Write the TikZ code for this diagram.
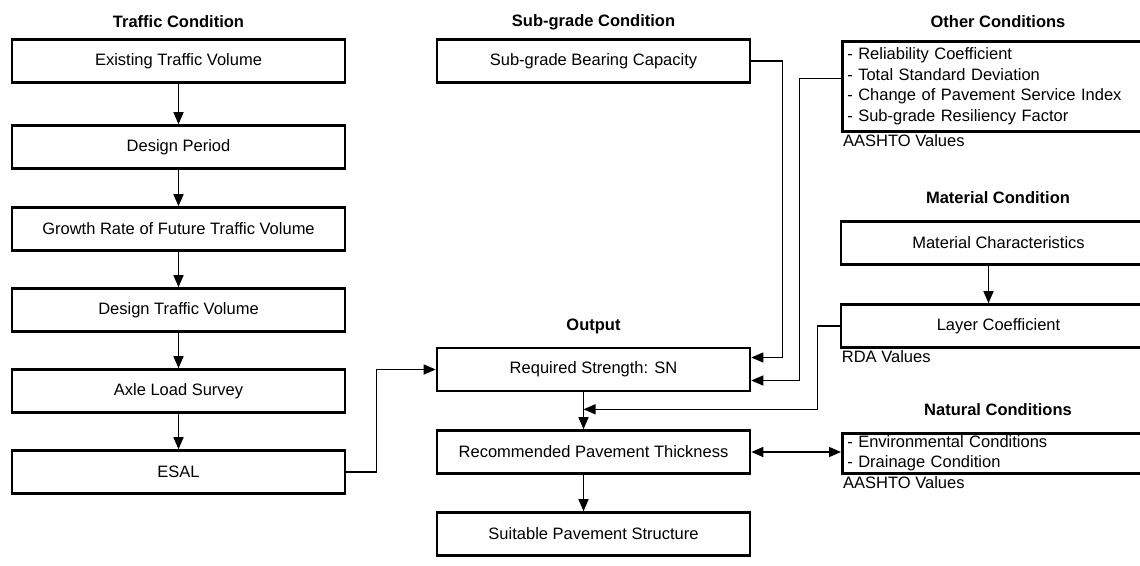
\documentclass[tikz,border=0pt]{standalone}
\usepackage{fontspec}
\setmainfont{Liberation Sans}
\usetikzlibrary{
    arrows.meta,
    calc,
    positioning
}
\definecolor{ink}{RGB}{0,0,0}
\newcommand{\diagfont}{\fontsize{16.5}{20.6}\selectfont}
\tikzset{
    line join=miter,
    stage/.style={
        rectangle,
        draw=ink,
        line width=2.6pt,
        minimum width=333pt,
        minimum height=43pt,
        inner sep=0pt,
        font=\diagfont,
        text=ink
    },
    midstage/.style={stage, minimum width=313pt},
    sidestage/.style={stage, minimum width=315pt},
    listbox/.style={
        sidestage,
        align=left,
        text width=305pt,
        inner xsep=5pt,
        anchor=north west
    },
    heading/.style={
        font=\diagfont\bfseries,
        text=ink
    },
    source/.style={
        font=\diagfont,
        text=ink,
        anchor=north west,
        inner sep=2pt
    },
    flow/.style={
        -{Triangle[length=12pt,width=10pt]},
        draw=ink,
        line width=1.5pt
    },
    feed/.style={
        flow,
        line width=1.2pt
    },
    twoway/.style={
        {Triangle[length=12pt,width=10pt]}-{Triangle[length=12pt,width=10pt]},
        draw=ink,
        line width=1.5pt
    }
}

\begin{document}
\begin{tikzpicture}[x=1pt, y=-1pt]
\clip (0,0) rectangle (1140,565);

% Traffic condition column
\node[heading] (ttl-traffic) at (178.5,22) {Traffic Condition};
\node[stage] (existing) at (178.5,61) {Existing Traffic Volume};
\node[stage] (period) at (178.5,147) {Design Period};
\node[stage] (growth) at (178.5,229) {Growth Rate of Future Traffic Volume};
\node[stage] (design) at (178.5,310) {Design Traffic Volume};
\node[stage] (axle) at (178.5,391) {Axle Load Survey};
\node[stage] (esal) at (178.5,472) {ESAL};

\draw[flow] (existing) -- (period);
\draw[flow] (period) -- (growth);
\draw[flow] (growth) -- (design);
\draw[flow] (design) -- (axle);
\draw[flow] (axle) -- (esal);

% Sub-grade and output column
\node[heading] (ttl-subgrade) at (593.5,22) {Sub-grade Condition};
\node[midstage] (bearing) at (593.5,61) {Sub-grade Bearing Capacity};
\node[heading] (ttl-output) at (593.5,326) {Output};
\node[midstage] (strength) at (593.5,369.5) {Required Strength: SN};
\node[midstage] (thickness) at (593.5,452) {Recommended Pavement Thickness};
\node[midstage] (structure) at (593.5,534) {Suitable Pavement Structure};

\coordinate (merge) at ($(strength.south)+(-10,17)$);
\draw[flow] ($(strength.south)+(-10,0)$) -- ($(thickness.north)+(-10,0)$);
\draw[flow] ($(thickness.south)+(-10,0)$) -- ($(structure.north)+(-10,0)$);

% Other, material and natural conditions
\node[heading] (ttl-other) at (998,22) {Other Conditions};
\node[listbox, minimum height=90pt] (others) at (841,40) {- Reliability Coefficient\\- Total Standard Deviation\\- Change of Pavement Service Index\\- Sub-grade Resiliency Factor};
\node[source] (src-other) at (others.south west) {AASHTO Values};

\node[heading] (ttl-material) at (998,198) {Material Condition};
\node[sidestage] (material) at (998.5,243) {Material Characteristics};
\node[sidestage] (layer) at (998.5,326) {Layer Coefficient};
\node[source] (src-layer) at (layer.south west) {RDA Values};
\draw[flow] ($(material.south)+(-10,0)$) -- ($(layer.north)+(-10,0)$);

\node[heading] (ttl-natural) at (998,410) {Natural Conditions};
\node[listbox, minimum height=40pt] (natural) at (841,432) {- Environmental Conditions\\- Drainage Condition};
\node[source] (src-natural) at (natural.south west) {AASHTO Values};

% Feeds into the required strength
\draw[flow] (esal.east) -- ++(30,0) |- (strength.west);
\draw[feed] (bearing.east) -| ($(strength.east)+(31,-12)$) -- ($(strength.east)+(0,-12)$);
\draw[feed] ($(others.west)+(0,-8)$) -| ($(strength.east)+(48,11)$) -- ($(strength.east)+(0,11)$);
\draw[feed] (layer.west) -| ($(merge)+(234,0)$) -- (merge);
\draw[twoway] (thickness.east) -- (thickness.east -| natural.west);
\end{tikzpicture}
\end{document}
